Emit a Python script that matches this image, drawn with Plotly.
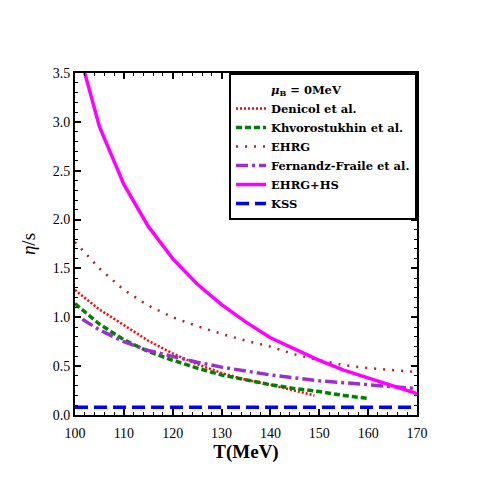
import plotly.graph_objects as go

# temperatures (MeV) and eta/s values
T_hs = [102, 105, 110, 115, 120, 125, 130, 135, 140, 145, 150, 155, 160, 165, 170]
ehrg_hs = [3.5, 2.95, 2.36, 1.93, 1.6, 1.34, 1.13, 0.95, 0.79, 0.67, 0.56, 0.46, 0.38, 0.3, 0.22]

T_ehrg = [100, 105, 110, 115, 120, 125, 130, 135, 140, 145, 150, 155, 160, 165, 170]
ehrg = [1.77, 1.5, 1.28, 1.12, 1.0, 0.91, 0.83, 0.76, 0.7, 0.62, 0.56, 0.51, 0.48, 0.46, 0.44]

T_den = [100, 105, 110, 115, 120, 125, 130, 135, 140, 145, 149]
denicol = [1.28, 1.08, 0.92, 0.76, 0.63, 0.52, 0.43, 0.36, 0.31, 0.25, 0.2]

T_khv = [100, 105, 110, 115, 120, 125, 130, 135, 140, 145, 150, 155, 160]
khvoro = [1.14, 0.93, 0.77, 0.65, 0.56, 0.48, 0.41, 0.36, 0.31, 0.27, 0.24, 0.2, 0.17]

T_ff = [101.5, 105, 110, 115, 120, 125, 130, 135, 140, 145, 150, 155, 160, 165, 170]
fraile = [0.98, 0.87, 0.75, 0.66, 0.6, 0.54, 0.49, 0.45, 0.41, 0.38, 0.35, 0.33, 0.31, 0.29, 0.27]

T_kss = [100, 170]
kss = [0.08, 0.08]

fig = go.Figure()

# dummy entry for the legend header line
fig.add_trace(go.Scatter(x=[None], y=[None], mode='lines', line=dict(color='rgba(0,0,0,0)', width=0),
                         name='<i>μ</i><sub>B</sub> = 0MeV'))
fig.add_trace(go.Scatter(x=T_den, y=denicol, mode='lines', line=dict(color='red', width=2.5, dash='2px,2px'),
                         name='Denicol et al.'))
fig.add_trace(go.Scatter(x=T_khv, y=khvoro, mode='lines', line=dict(color='green', width=3.5, dash='6px,3px'),
                         name='Khvorostukhin et al.'))
fig.add_trace(go.Scatter(x=T_ehrg, y=ehrg, mode='lines', line=dict(color='#b22222', width=2.5, dash='2px,7px'),
                         name='EHRG'))
fig.add_trace(go.Scatter(x=T_ff, y=fraile, mode='lines', line=dict(color='#9932cc', width=3.5, dash='12px,4px,3px,4px'),
                         name='Fernandz-Fraile et al.'))
fig.add_trace(go.Scatter(x=T_hs, y=ehrg_hs, mode='lines', line=dict(color='magenta', width=3.5),
                         name='EHRG+HS'))
fig.add_trace(go.Scatter(x=T_kss, y=kss, mode='lines', line=dict(color='blue', width=3.5, dash='13px,6px'),
                         name='KSS'))

axis_common = dict(showline=True, linecolor='black', linewidth=2, mirror='allticks',
                   ticks='inside', ticklen=6, tickwidth=1.5, tickcolor='black',
                   showgrid=False, zeroline=False, automargin=False,
                   tickfont=dict(family='Liberation Serif', size=14, color='black'),
                   minor=dict(ticks='inside', ticklen=3, tickwidth=1, tickcolor='black'))

fig.update_xaxes(range=[100, 170], dtick=10, tick0=100, ticklabelstandoff=4, **axis_common,
                 title=dict(text='<b>T(MeV)</b>', font=dict(family='Liberation Serif', size=19, color='black'),
                            standoff=4))
fig.update_yaxes(range=[0, 3.5], dtick=0.5, tick0=0, tickformat='.1f', **axis_common,
                 title=dict(text='<i>η</i>/s', font=dict(family='Liberation Serif', size=19, color='black'),
                            standoff=12))

# page body adds 8px offset, so margins are shifted to land the frame where the reference has it
fig.update_layout(
    width=491, height=491,
    margin=dict(l=67, r=82, t=65, b=84),
    plot_bgcolor='white', paper_bgcolor='white',
    legend=dict(x=1, y=1, xanchor='right', yanchor='top',
                bgcolor='white', bordercolor='black', borderwidth=2,
                font=dict(family='DejaVu Serif', size=11.5, color='black', weight='bold'),
                tracegroupgap=0, itemwidth=30),
)

fig.write_html("out.html")
